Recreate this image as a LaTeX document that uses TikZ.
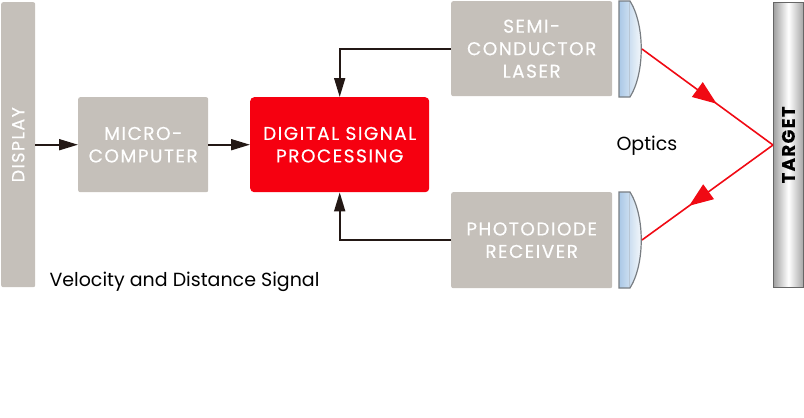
\documentclass[tikz,border=0pt]{standalone}
\usepackage{fontspec}
\setmainfont{Poppins}
\newfontfamily\boxfont[LetterSpace=8,FakeBold=0.4]{Poppins}
\usetikzlibrary{arrows.meta,decorations.markings,shadings}
\definecolor{boxgray}{RGB}{197,192,186}
\definecolor{dspred}{RGB}{246,0,16}
\definecolor{arrowdark}{RGB}{35,24,21}
\definecolor{lensblue}{RGB}{170,200,230}
\definecolor{lensedge}{RGB}{120,125,130}
\definecolor{beamred}{RGB}{240,10,20}
\tikzset{
  graybox/.style={fill=boxgray, rounded corners=2pt, text=white, align=center,
    font=\boxfont\fontsize{18.5}{22.5}\selectfont, inner sep=0pt, anchor=north west},
  redbox/.style={graybox, fill=dspred, rounded corners=4pt},
  conn/.style={draw=arrowdark, line width=1.8pt, -{Triangle[length=19pt,width=11pt]}},
  beam/.style={draw=beamred, line width=1.6pt, postaction={decorate}},
  lensshape/.style={draw=lensedge, line width=1.2pt, left color=lensblue, right color=white},
}
\begin{document}
\begin{tikzpicture}[x=1pt,y=-1pt]
\useasboundingbox (0,0) rectangle (804,418);
% display bar
\node[graybox, rounded corners=2pt, minimum width=34, minimum height=285] (display) at (1,2) {};
\node[rotate=90, text=white, font=\boxfont\fontsize{17.5}{20}\selectfont] (displaytext) at (display.center) {DISPLAY};
% boxes
\node[graybox, minimum width=130, minimum height=95] (micro) at (78,97) {MICRO-\\COMPUTER};
\node[redbox, minimum width=179, minimum height=95] (dsp) at (250,97) {DIGITAL SIGNAL\\PROCESSING};
\node[graybox, minimum width=161, minimum height=95] (laser) at (451,1) {SEMI-\\CONDUCTOR\\LASER};
\node[graybox, minimum width=161, minimum height=96] (photo) at (451,192) {PHOTODIODE\\RECEIVER};
% connectors
\draw[conn] (display.east) -- (micro.west);
\draw[conn] (micro.east) -- (dsp.west);
\draw[conn] (laser.west) -| (dsp.north);
\draw[conn] (photo.west) -| (dsp.south);
% lenses
\draw[lensshape] (619,1) -- (630,1) .. controls (645,25) and (645,73) .. (630,97) -- (619,97) -- cycle;
\draw[lensblue!80!black!60, line width=0.8pt] (629,2) -- (629,96);
\draw[lensshape] (619,192) -- (630,192) .. controls (645,216) and (645,264) .. (630,288) -- (619,288) -- cycle;
\draw[lensblue!80!black!60, line width=0.8pt] (629,193) -- (629,287);
\coordinate (lens1) at (642,49);
\coordinate (lens2) at (642,240);
% target
\node[draw=gray!80!black, line width=0.8pt, shading=axis, left color=gray!75, right color=gray!70, middle color=white,
  minimum width=30, minimum height=285, inner sep=0pt, anchor=north west] (target) at (773,2) {};
\node[rotate=90, font=\boxfont\bfseries\fontsize{18}{20}\selectfont] (targettext) at (target.center) {TARGET};
\coordinate (hit) at (773,145);
% beams
\draw[beam, decoration={markings, mark=at position 0.57 with {\arrow{Triangle[length=24pt,width=18pt]}}}] (lens1) -- (hit);
\draw[beam, decoration={markings, mark=at position 0.64 with {\arrow{Triangle[length=24pt,width=18pt]}}}] (hit) -- (lens2);
% labels
\node[anchor=west, font=\fontsize{19}{21}\selectfont] (optics) at (613,146) {Optics};
\node[anchor=west, font=\fontsize{19}{21}\selectfont] (vds) at (46,282) {Velocity and Distance Signal};
\end{tikzpicture}
\end{document}
